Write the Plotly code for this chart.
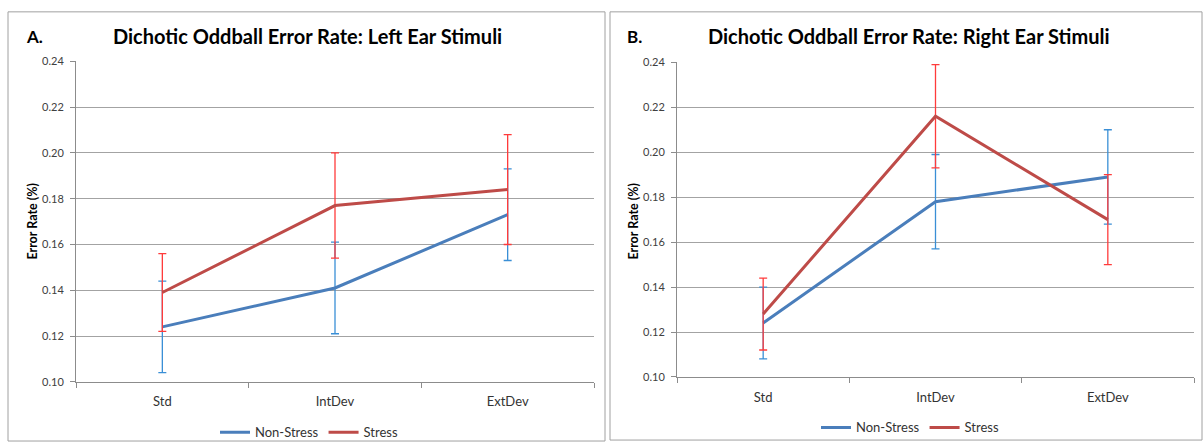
import plotly.graph_objects as go

# Data: mean error rates and error-bar half-widths per condition
categories = ["Std", "IntDev", "ExtDev"]

left_nonstress = [0.124, 0.141, 0.173]
left_nonstress_err = [0.020, 0.020, 0.020]
left_stress = [0.139, 0.177, 0.184]
left_stress_err = [0.017, 0.023, 0.024]

right_nonstress = [0.124, 0.178, 0.189]
right_nonstress_err = [0.016, 0.021, 0.021]
right_stress = [0.128, 0.216, 0.170]
right_stress_err = [0.016, 0.023, 0.020]

y_ticks = [0.10, 0.12, 0.14, 0.16, 0.18, 0.20, 0.22, 0.24]
y_tick_text = ["0.10", "0.12", "0.14", "0.16", "0.18", "0.20", "0.22", "0.24"]

W, H = 1203, 448
FONT = "Lato, 'Open Sans', sans-serif"

BLUE_LINE = "#4A7EBB"
RED_LINE = "#BE4B48"
BLUE_ERR = "#3A8FD6"
RED_ERR = "#FF3B3B"


def px_x(x):
    return x / W


def px_y(y):
    return 1 - y / H


fig = go.Figure()


def add_series(xaxis, yaxis, y, err, name, line_color, err_color, legend):
    fig.add_trace(go.Scatter(
        x=categories, y=y, name=name, mode="lines",
        xaxis=xaxis, yaxis=yaxis, legend=legend,
        line=dict(color=line_color, width=3),
        error_y=dict(type="data", array=err, symmetric=True,
                     color=err_color, thickness=1.3, width=4),
    ))


add_series("x", "y", left_nonstress, left_nonstress_err, "Non-Stress", BLUE_LINE, BLUE_ERR, "legend")
add_series("x", "y", left_stress, left_stress_err, "Stress", RED_LINE, RED_ERR, "legend")
add_series("x2", "y2", right_nonstress, right_nonstress_err, "Non-Stress", BLUE_LINE, BLUE_ERR, "legend2")
add_series("x2", "y2", right_stress, right_stress_err, "Stress", RED_LINE, RED_ERR, "legend2")

axis_common_x = dict(
    type="category", range=[-0.5, 2.5],
    showline=True, linecolor="#8C8C8C", linewidth=1,
    ticks="outside", tickson="boundaries", ticklen=5, tickcolor="#8C8C8C",
    ticklabelstandoff=8,
    showgrid=False, zeroline=False,
    tickfont=dict(family=FONT, size=13, color="#333333"),
)
axis_common_y = dict(
    range=[0.10, 0.24], tickvals=y_ticks, ticktext=y_tick_text,
    showline=True, linecolor="#8C8C8C", linewidth=1,
    ticks="outside", ticklen=5, tickcolor="#8C8C8C",
    ticklabelstandoff=4,
    showgrid=True, gridcolor="#A3A3A3", gridwidth=1, zeroline=False,
    tickfont=dict(family=FONT, size=11, color="#404040"),
)

fig.update_layout(
    width=W, height=H,
    margin=dict(l=0, r=0, t=0, b=0),
    paper_bgcolor="white", plot_bgcolor="white",
    xaxis=dict(domain=[px_x(76), px_x(594)], anchor="y", **axis_common_x),
    yaxis=dict(domain=[px_y(386), px_y(56)], anchor="x", **axis_common_y),
    xaxis2=dict(domain=[px_x(677), px_x(1194)], anchor="y2", **axis_common_x),
    yaxis2=dict(domain=[px_y(381), px_y(57)], anchor="x2", **axis_common_y),
    legend=dict(orientation="h", x=px_x(309), y=px_y(438), xanchor="center", yanchor="middle",
                font=dict(family=FONT, size=13, color="#333333"), itemwidth=30,
                bgcolor="rgba(0,0,0,0)"),
    legend2=dict(orientation="h", x=px_x(910), y=px_y(433), xanchor="center", yanchor="middle",
                 font=dict(family=FONT, size=13, color="#333333"), itemwidth=30,
                 bgcolor="rgba(0,0,0,0)"),
    showlegend=True,
)

# Chart frames
fig.add_shape(type="rect", xref="paper", yref="paper",
              x0=px_x(8), x1=px_x(605), y0=px_y(447), y1=px_y(5),
              line=dict(color="#A0A0A0", width=1))
fig.add_shape(type="rect", xref="paper", yref="paper",
              x0=px_x(610), x1=px_x(1202), y0=px_y(446), y1=px_y(5),
              line=dict(color="#A0A0A0", width=1))

annotations = [
    dict(text="<b>A.</b>", x=px_x(24), y=px_y(30)),
    dict(text="<b>B.</b>", x=px_x(625), y=px_y(30)),
]
for a in annotations:
    fig.add_annotation(xref="paper", yref="paper", xanchor="left", yanchor="middle",
                       showarrow=False, font=dict(family=FONT, size=17, color="black"), **a)

fig.add_annotation(text="<b>Dichotic Oddball Error Rate: Left Ear Stimuli</b>",
                   xref="paper", yref="paper", x=px_x(307), y=px_y(30),
                   xanchor="center", yanchor="middle", showarrow=False,
                   font=dict(family=FONT, size=20, color="black"))
fig.add_annotation(text="<b>Dichotic Oddball Error Rate: Right Ear Stimuli</b>",
                   xref="paper", yref="paper", x=px_x(909), y=px_y(30),
                   xanchor="center", yanchor="middle", showarrow=False,
                   font=dict(family=FONT, size=20, color="black"))

for xpos in (33, 634):
    fig.add_annotation(text="<b>Error Rate (%)</b>", xref="paper", yref="paper",
                       x=px_x(xpos), y=px_y(221), xanchor="center", yanchor="middle",
                       textangle=-90, showarrow=False,
                       font=dict(family=FONT, size=12.5, color="black"))

fig.write_html("out.html")
